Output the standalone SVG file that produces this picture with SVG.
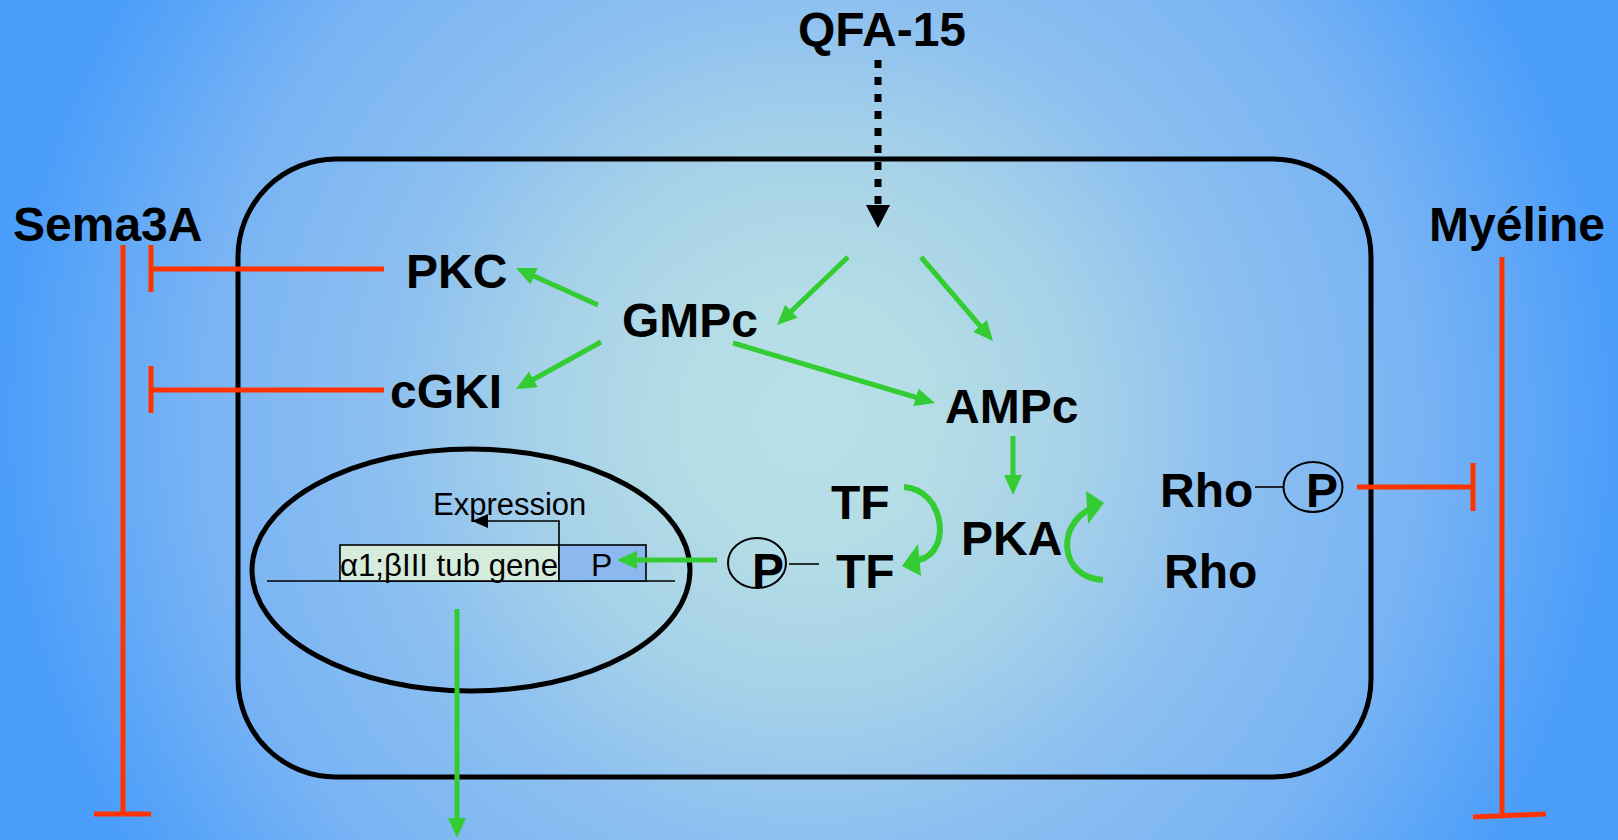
<svg xmlns="http://www.w3.org/2000/svg" width="1618" height="840" viewBox="0 0 1618 840">
<style>
.lbl{font-family:"Liberation Sans",Arial,sans-serif;font-weight:bold;font-size:48px;fill:#000}
.reg{font-family:"Liberation Sans",Arial,sans-serif;font-size:31px;fill:#000}
.g{stroke:#33cc33;stroke-width:5;fill:none;marker-end:url(#ga)}
.gc{stroke:#33cc33;stroke-width:6;fill:none}
.gh{fill:#33cc33}
.r{stroke:#ff3300;stroke-width:5;fill:none}
.thin{stroke:#000;stroke-width:1.6;fill:none}
</style>
<defs>
<radialGradient id="bg" gradientUnits="userSpaceOnUse" cx="809" cy="420" r="809">
<stop offset="0" stop-color="#b9e0e6"/>
<stop offset="0.15" stop-color="#b5dde6"/>
<stop offset="0.33" stop-color="#a7d2e8"/>
<stop offset="0.52" stop-color="#8dc0f0"/>
<stop offset="0.76" stop-color="#78b3f4"/>
<stop offset="1" stop-color="#4a9dfa"/>
</radialGradient>
<marker id="ga" markerWidth="20" markerHeight="18" refX="6" refY="9" orient="auto" markerUnits="userSpaceOnUse">
<path d="M0,0 L20,9 L0,18 z" fill="#33cc33"/>
</marker>
</defs>
<rect x="0" y="0" width="1618" height="840" fill="url(#bg)"/>

<g id="cell">
<rect x="238" y="159" width="1133" height="618" rx="98" ry="98" fill="none" stroke="#000" stroke-width="5"/>
</g>
<g id="nucleus">
<ellipse cx="471" cy="570" rx="219" ry="121" fill="none" stroke="#000" stroke-width="5"/>
</g>

<g id="gene">
<line x1="267" y1="581" x2="675" y2="581" class="thin"/>
<rect x="340" y="545" width="219" height="36" fill="#d5ebdb" stroke="#000" stroke-width="1.6"/>
<rect x="559" y="545" width="87" height="36" fill="#8cb8f0" stroke="#000" stroke-width="1.6"/>
<text class="reg" x="340" y="576" textLength="218" lengthAdjust="spacingAndGlyphs" style="font-size:32px">α1;βIII tub gene</text>
<text class="reg" x="591" y="576" style="font-size:32px">P</text>
<polyline points="559,545 559,521 487,521" class="thin"/>
<polygon points="472,521 488,514 488,528" fill="#000"/>
<text class="reg" x="433" y="515">Expression</text>
</g>

<g id="qfa15">
<text class="lbl" x="798" y="46">QFA-15</text>
</g>
<g id="sema3a"><text class="lbl" x="13" y="241">Sema3A</text></g>
<g id="myeline"><text class="lbl" x="1429" y="241">Myéline</text></g>
<g id="pkc"><text class="lbl" x="406" y="288">PKC</text></g>
<g id="cgki"><text class="lbl" x="390" y="408">cGKI</text></g>
<g id="gmpc"><text class="lbl" x="622" y="337">GMPc</text></g>
<g id="ampc"><text class="lbl" x="945" y="423">AMPc</text></g>
<g id="tf1"><text class="lbl" x="831" y="519">TF</text></g>
<g id="tf2"><text class="lbl" x="836" y="588">TF</text></g>
<g id="pka"><text class="lbl" x="961" y="555">PKA</text></g>
<g id="rho1"><text class="lbl" x="1160" y="507">Rho</text></g>
<g id="rho2"><text class="lbl" x="1164" y="588">Rho</text></g>
<g id="p-tf">
<ellipse cx="757" cy="563" rx="29" ry="25" fill="none" stroke="#000" stroke-width="2"/>
<text class="lbl" x="752" y="587">P</text>
</g>
<g id="p-rho">
<ellipse cx="1313" cy="487" rx="29.5" ry="25" fill="none" stroke="#000" stroke-width="2"/>
<text class="lbl" x="1306" y="507">P</text>
</g>

<g id="connectors">
<line x1="878" y1="60" x2="878" y2="205" stroke="#000" stroke-width="7" stroke-dasharray="8 9"/>
<polygon points="866,205 890,205 878,228" fill="#000"/>
<line x1="848" y1="257" x2="787.1" y2="315.3" class="g"/>
<line x1="921" y1="257" x2="983.9" y2="330.4" class="g"/>
<line x1="733" y1="343" x2="921.6" y2="399" class="g"/>
<line x1="598" y1="305" x2="528.8" y2="273.8" class="g"/>
<line x1="601" y1="342" x2="528.3" y2="382.2" class="g"/>
<line x1="1013" y1="436" x2="1013" y2="481" class="g"/>
<line x1="717" y1="560" x2="631" y2="560" class="g"/>
<line x1="457" y1="609" x2="457" y2="824" class="g"/>
<path d="M904,487 C945,490 952,552 919,560" class="gc"/>
<polygon points="918,544 902,566 921,576" class="gh"/>
<path d="M1103,580 C1060,578 1055,525 1092,508" class="gc"/>
<polygon points="1086,491 1104,503 1088,524" class="gh"/>
<line x1="789" y1="564" x2="819" y2="564" class="thin"/>
<line x1="1255" y1="487" x2="1284" y2="487" class="thin"/>
<line x1="123" y1="245" x2="123" y2="814" class="r"/>
<line x1="94" y1="814" x2="151" y2="814" class="r"/>
<line x1="151" y1="269" x2="384" y2="269" class="r"/>
<line x1="151" y1="245" x2="151" y2="292" class="r"/>
<line x1="151" y1="390" x2="384" y2="390" class="r"/>
<line x1="151" y1="366" x2="151" y2="413" class="r"/>
<line x1="1502" y1="257" x2="1502" y2="815" class="r"/>
<line x1="1473" y1="817" x2="1546" y2="814" class="r"/>
<line x1="1357" y1="487" x2="1473" y2="487" class="r"/>
<line x1="1473" y1="463" x2="1473" y2="511" class="r"/>
</g>
</svg>
